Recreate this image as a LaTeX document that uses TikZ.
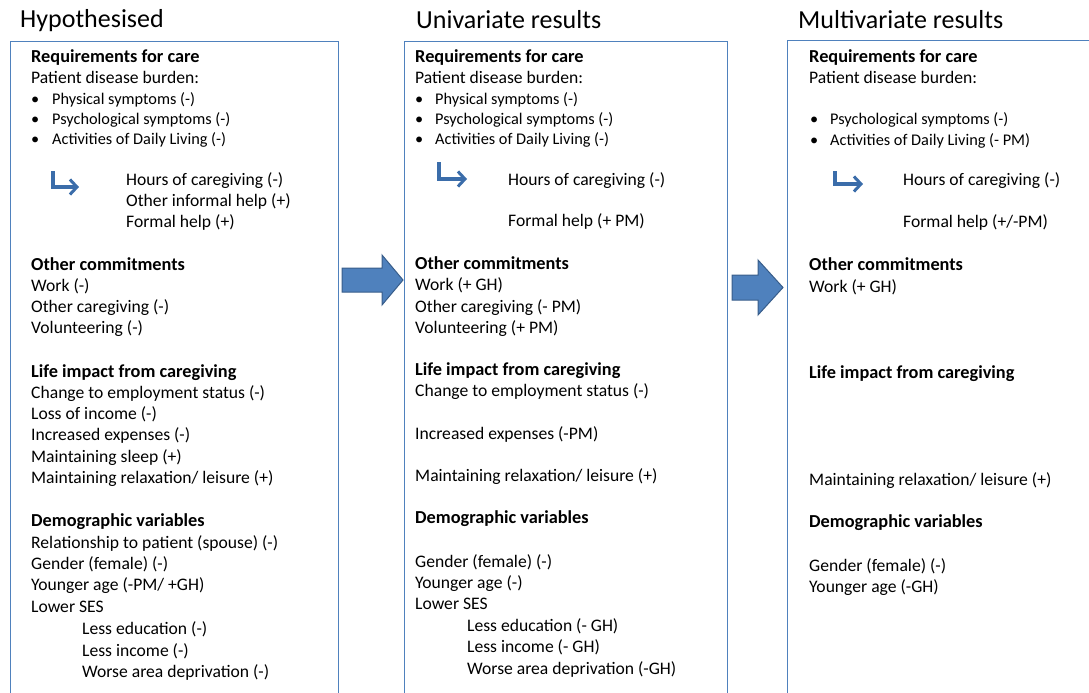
\documentclass[tikz,border=0pt]{standalone}
\usepackage{fontspec}
\setmainfont{Carlito}
\usetikzlibrary{arrows.meta}
\definecolor{boxblue}{HTML}{4F81BD}
\definecolor{arrowedge}{HTML}{385D8A}
\definecolor{hookblue}{HTML}{3B6DAA}
\tikzset{
  txt/.style={anchor=west, inner sep=0pt, yshift=-2.5pt, text height=0.75em, text depth=0.1em, font=\fontsize{17.6}{20}\selectfont},
  hd/.style={txt, font=\fontsize{18.3}{20}\selectfont\bfseries},
  bul/.style={txt, font=\fontsize{16.3}{19}\selectfont},
  ttl/.style={anchor=west, inner sep=0pt, yshift=-4pt, text height=0.75em, text depth=0.1em, font=\fontsize{26}{30}\selectfont},
  box/.style={draw=boxblue, line width=1.1pt, anchor=north west, inner sep=0pt},
  bigarr/.style={fill=boxblue, draw=arrowedge, line width=1pt, line join=miter},
  hook/.style={draw=hookblue, line width=3.2pt, -{Straight Barb[length=7pt,width=15pt,line width=3pt]}},
}
\begin{document}
\begin{tikzpicture}[x=1pt,y=-1pt]
\useasboundingbox (0,0) rectangle (1089,693);
\clip (0,0) rectangle (1089,693);
% boxes
\node[box, minimum width=328pt, minimum height=700pt] (b1) at (10,41) {};
\node[box, minimum width=323pt, minimum height=700pt] (b2) at (404,41) {};
\node[box, minimum width=330pt, minimum height=700pt] (b3) at (787,40) {};
% titles
\node[ttl] (t1) at (20,20) {Hypothesised};
\node[ttl] (t2) at (416,21) {Univariate results};
\node[ttl] (t3) at (798,21) {Multivariate results};
% big arrows
\draw[bigarr] (342,268) -- (382,268) -- (382,255) -- (403,280) -- (382,305) -- (382,292) -- (342,292) -- cycle;
\draw[bigarr] (732,275) -- (758,275) -- (758,260) -- (783,287.5) -- (758,315) -- (758,300) -- (732,300) -- cycle;

% ---------- box 1 ----------
\node[hd] (a1) at (31,57) {Requirements for care};
\node[txt] (a2) at (31,78) {Patient disease burden:};
\node[bul] (a3b) at (31,99) {\textbullet};
\node[bul] (a3) at (52,99) {Physical symptoms (-)};
\node[bul] (a4b) at (31,119) {\textbullet};
\node[bul] (a4) at (52,119) {Psychological symptoms (-)};
\node[bul] (a5b) at (31,139) {\textbullet};
\node[bul] (a5) at (52,139) {Activities of Daily Living (-)};
\coordinate (ah1) at (53,171);
\coordinate (ah2) at (53,187);
\coordinate (ah3) at (79,187);
\draw[hook] (ah1) -- (ah2) -- (ah3);
\node[txt] (a6) at (126,180) {Hours of caregiving (-)};
\node[txt] (a7) at (126,201) {Other informal help (+)};
\node[txt] (a8) at (126,222) {Formal help (+)};
\node[hd] (a9) at (31,265) {Other commitments};
\node[txt] (a10) at (31,286) {Work (-)};
\node[txt] (a11) at (31,307) {Other caregiving (-)};
\node[txt] (a12) at (31,328) {Volunteering (-)};
\node[hd] (a13) at (31,372) {Life impact from caregiving};
\node[txt] (a14) at (31,393) {Change to employment status (-)};
\node[txt] (a15) at (31,414) {Loss of income (-)};
\node[txt] (a16) at (31,435) {Increased expenses (-)};
\node[txt] (a17) at (31,457) {Maintaining sleep (+)};
\node[txt] (a18) at (31,478) {Maintaining relaxation/ leisure (+)};
\node[hd] (a19) at (31,521) {Demographic variables};
\node[txt] (a20) at (31,543) {Relationship to patient (spouse) (-)};
\node[txt] (a21) at (31,564) {Gender (female) (-)};
\node[txt] (a22) at (31,585) {Younger age (-PM/ +GH)};
\node[txt] (a23) at (31,607) {Lower SES};
\node[txt] (a24) at (82,629) {Less education (-)};
\node[txt] (a25) at (82,651) {Less income (-)};
\node[txt] (a26) at (82,672) {Worse area deprivation (-)};

% ---------- box 2 ----------
\node[hd] (u1) at (415,57) {Requirements for care};
\node[txt] (u2) at (415,78) {Patient disease burden:};
\node[bul] (u3b) at (415,99) {\textbullet};
\node[bul] (u3) at (435,99) {Physical symptoms (-)};
\node[bul] (u4b) at (415,119) {\textbullet};
\node[bul] (u4) at (435,119) {Psychological symptoms (-)};
\node[bul] (u5b) at (415,139) {\textbullet};
\node[bul] (u5) at (435,139) {Activities of Daily Living (-)};
\coordinate (uh1) at (439,162);
\coordinate (uh2) at (439,179);
\coordinate (uh3) at (467,179);
\draw[hook] (uh1) -- (uh2) -- (uh3);
\node[txt] (u6) at (508,180) {Hours of caregiving (-)};
\node[txt] (u7) at (508,221) {Formal help (+ PM)};
\node[hd] (u8) at (415,264) {Other commitments};
\node[txt] (u9) at (415,285) {Work (+ GH)};
\node[txt] (u10) at (415,307) {Other caregiving (- PM)};
\node[txt] (u11) at (415,328) {Volunteering (+ PM)};
\node[hd] (u12) at (415,370) {Life impact from caregiving};
\node[txt] (u13) at (415,391) {Change to employment status (-)};
\node[txt] (u14) at (415,434) {Increased expenses (-PM)};
\node[txt] (u15) at (415,476) {Maintaining relaxation/ leisure (+)};
\node[hd] (u16) at (415,518) {Demographic variables};
\node[txt] (u17) at (415,562) {Gender (female) (-)};
\node[txt] (u18) at (415,583) {Younger age (-)};
\node[txt] (u19) at (415,604) {Lower SES};
\node[txt] (u20) at (467,626) {Less education (- GH)};
\node[txt] (u21) at (467,647) {Less income (- GH)};
\node[txt] (u22) at (467,669) {Worse area deprivation (-GH)};

% ---------- box 3 ----------
\node[hd] (m1) at (809,57) {Requirements for care};
\node[txt] (m2) at (809,78) {Patient disease burden:};
\node[bul] (m3b) at (810,119) {\textbullet};
\node[bul] (m3) at (830,119) {Psychological symptoms (-)};
\node[bul] (m4b) at (810,140) {\textbullet};
\node[bul] (m4) at (830,140) {Activities of Daily Living (- PM)};
\coordinate (mh1) at (835,171);
\coordinate (mh2) at (835,184);
\coordinate (mh3) at (863,184);
\draw[hook] (mh1) -- (mh2) -- (mh3);
\node[txt] (m5) at (903,180) {Hours of caregiving (-)};
\node[txt] (m6) at (903,222) {Formal help (+/-PM)};
\node[hd] (m7) at (809,265) {Other commitments};
\node[txt] (m8) at (809,287) {Work (+ GH)};
\node[hd] (m9) at (809,373) {Life impact from caregiving};
\node[txt] (m10) at (809,480) {Maintaining relaxation/ leisure (+)};
\node[hd] (m11) at (809,522) {Demographic variables};
\node[txt] (m12) at (809,566) {Gender (female) (-)};
\node[txt] (m13) at (809,587) {Younger age (-GH)};
\end{tikzpicture}
\end{document}
